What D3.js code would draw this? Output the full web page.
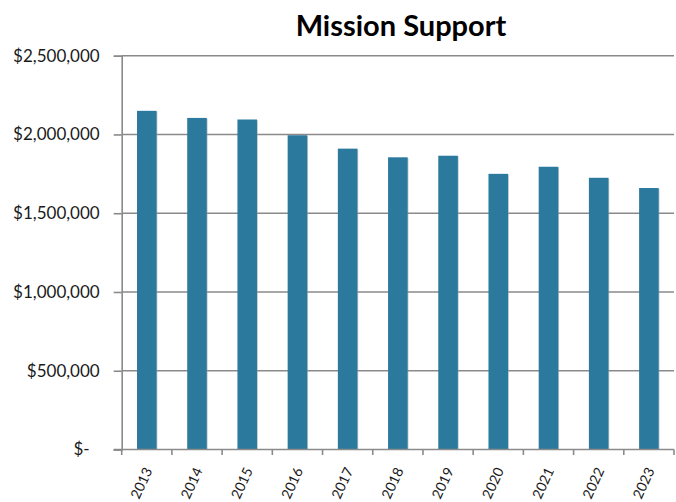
<!DOCTYPE html>
<html>
<head>
<meta charset="utf-8">
<script src="https://cdn.jsdelivr.net/npm/d3@7/dist/d3.min.js"></script>
<style>
  html, body { margin: 0; padding: 0; background: #ffffff; }
  svg { display: block; }
</style>
</head>
<body>
<script>
const title = "Mission Support";
const years = ["2013","2014","2015","2016","2017","2018","2019","2020","2021","2022","2023"];
const values = [2150000, 2105000, 2095000, 1995000, 1910000, 1855000, 1865000, 1750000, 1795000, 1725000, 1660000];
const yTicks = [0, 500000, 1000000, 1500000, 2000000, 2500000];

const W = 676, H = 502;
const plotL = 121.7, plotR = 674, plotT = 55.7, plotB = 449.5;
const barColor = "#2b7a9e";
const gridColor = "#8a8a8a";

const svg = d3.select("body").append("svg")
  .attr("width", W).attr("height", H)
  .attr("viewBox", `0 0 ${W} ${H}`);

svg.append("rect").attr("width", W).attr("height", H).attr("fill", "#fff");

const x = d3.scaleBand().domain(years).range([plotL, plotR]).paddingInner(0).paddingOuter(0);
const y = d3.scaleLinear().domain([0, 2500000]).range([plotB, plotT]);

// title
svg.append("text")
  .attr("x", 401).attr("y", 36)
  .attr("text-anchor", "middle")
  .attr("font-family", "Lato, 'Open Sans', sans-serif")
  .attr("font-weight", "bold")
  .attr("font-size", 29)
  .attr("fill", "#000")
  .text(title);

// gridlines
svg.append("g").selectAll("line").data(yTicks.filter(d => d > 0)).join("line")
  .attr("x1", plotL).attr("x2", plotR)
  .attr("y1", d => y(d)).attr("y2", d => y(d))
  .attr("stroke", gridColor).attr("stroke-width", 1.6);

// bars (with subtle shadow)
const barW = x.step() * 0.39;
const bars = svg.append("g");
bars.selectAll("rect.sh").data(years).join("rect")
  .attr("class", "sh")
  .attr("x", d => x(d) + (x.step() - barW) / 2 + 0.8)
  .attr("y", (d, i) => y(values[i]) + 0.8)
  .attr("width", barW)
  .attr("height", (d, i) => plotB - y(values[i]) - 0.8)
  .attr("fill", "#9aa3a8").attr("opacity", 0.6);
bars.selectAll("rect.bar").data(years).join("rect")
  .attr("class", "bar")
  .attr("x", d => x(d) + (x.step() - barW) / 2)
  .attr("y", (d, i) => y(values[i]))
  .attr("width", barW)
  .attr("height", (d, i) => plotB - y(values[i]))
  .attr("fill", barColor);

// y axis
const yAxis = d3.axisLeft(y).tickValues(yTicks)
  .tickSize(8).tickPadding(14)
  .tickFormat(d => d === 0 ? "$-" : "$" + d3.format(",")(d));
const gy = svg.append("g").attr("transform", `translate(${plotL},0)`).call(yAxis);
gy.select(".domain").attr("stroke", gridColor).attr("stroke-width", 1.6);
gy.selectAll(".tick line").attr("stroke", gridColor).attr("stroke-width", 1.6);
gy.selectAll(".tick text")
  .attr("font-family", "Lato, 'Open Sans', sans-serif")
  .attr("font-size", 17)
  .attr("fill", "#1a1a1a")
  .attr("dx", d => d === 0 ? -10 : 0);

// x axis line + boundary ticks
const gx = svg.append("g").attr("transform", `translate(0,${plotB})`);
gx.append("line").attr("x1", plotL - 8).attr("x2", plotR).attr("y1", 0).attr("y2", 0)
  .attr("stroke", gridColor).attr("stroke-width", 1.6);
const bounds = years.map(d => x(d)).concat([x.range()[1]]);
gx.selectAll("line.bt").data(bounds).join("line")
  .attr("class", "bt")
  .attr("x1", d => d).attr("x2", d => d)
  .attr("y1", 0).attr("y2", 5.5)
  .attr("stroke", gridColor).attr("stroke-width", 1.6);

// x labels
gx.selectAll("text.xl").data(years).join("text")
  .attr("class", "xl")
  .attr("transform", d => `translate(${x(d) + x.step() / 2 + 6},${21}) rotate(-65)`)
  .attr("text-anchor", "end")
  .attr("font-family", "Lato, 'Open Sans', sans-serif")
  .attr("font-size", 14)
  .attr("fill", "#1a1a1a")
  .text(d => d);
</script>
</body>
</html>
